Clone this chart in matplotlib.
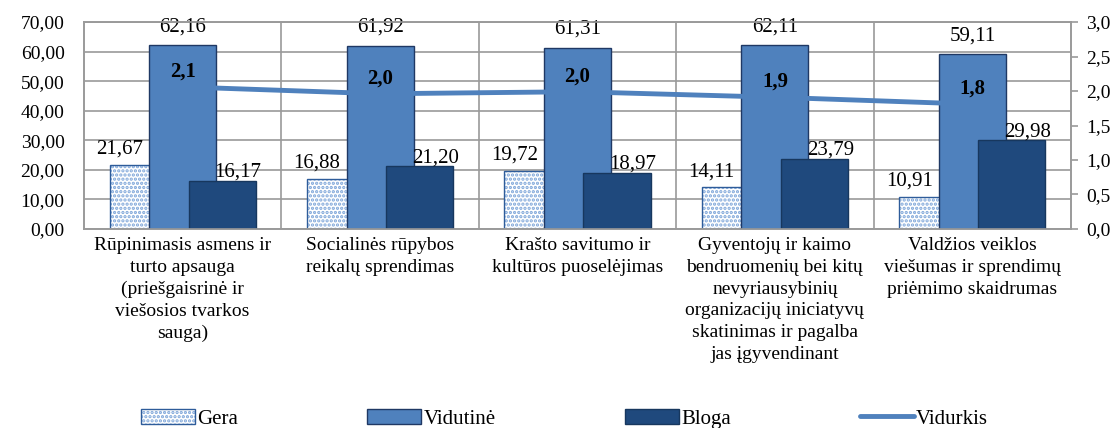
import numpy as np
import matplotlib.pyplot as plt
from matplotlib.ticker import FuncFormatter, MultipleLocator

# data
categories = [
    "Rūpinimasis asmens ir\nturto apsauga\n(priešgaisrinė ir\nviešosios tvarkos\nsauga)",
    "Socialinės rūpybos\nreikalų sprendimas",
    "Krašto savitumo ir\nkultūros puoselėjimas",
    "Gyventojų ir kaimo\nbendruomenių bei kitų\nnevyriausybinių\norganizacijų iniciatyvų\nskatinimas ir pagalba\njas įgyvendinant",
    "Valdžios veiklos\nviešumas ir sprendimų\npriėmimo skaidrumas",
]
gera = [21.67, 16.88, 19.72, 14.11, 10.91]
vidutine = [62.16, 61.92, 61.31, 62.11, 59.11]
bloga = [16.17, 21.20, 18.97, 23.79, 29.98]
vidurkis = [2.06, 1.96, 1.99, 1.91, 1.81]

plt.rcParams['font.family'] = ['Liberation Serif', 'DejaVu Serif']
plt.rcParams['hatch.color'] = '#7EA6D9'
plt.rcParams['hatch.linewidth'] = 1.6

grid_c = '#9A9A9A'
c_vid = '#4F81BD'
c_blo = '#1F497D'

fig = plt.figure(figsize=(11.18, 4.28), dpi=100)
ax = fig.add_axes([0.0751, 0.465, 0.8829, 0.4835])
ax2 = ax.twinx()

x = np.arange(len(categories))
w = 0.34
off = 0.2

def comma(fmt):
    return FuncFormatter(lambda v, p: (fmt % v).replace('.', ','))

# bars
b1 = ax.bar(x - off, gera, w, color='white', hatch='....', zorder=2)
b1o = ax.bar(x - off, gera, w, fill=False, edgecolor='#2E5C9A', linewidth=1, zorder=2)
b2 = ax.bar(x, vidutine, w, color=c_vid, edgecolor='#1F3864', linewidth=1, zorder=3)
b3 = ax.bar(x + off, bloga, w, color=c_blo, edgecolor='#17375E', linewidth=1, zorder=4)

for i in range(len(x)):
    ax.annotate(f"{gera[i]:.2f}".replace('.', ','), (x[i] - off - 0.12, gera[i]),
                xytext=(0, 8), textcoords='offset points', ha='center', va='baseline', fontsize=15, zorder=5)
    ax.annotate(f"{vidutine[i]:.2f}".replace('.', ','), (x[i], vidutine[i]),
                xytext=(0, 10), textcoords='offset points', ha='center', va='baseline', fontsize=15, zorder=5)
    ax.annotate(f"{bloga[i]:.2f}".replace('.', ','), (x[i] + off + 0.08, bloga[i]),
                xytext=(0, 3), textcoords='offset points', ha='center', va='baseline', fontsize=15, zorder=5)

# line
ln, = ax2.plot(x, vidurkis, color=c_vid, linewidth=3.5, solid_capstyle='round')
for i in range(len(x)):
    ax2.annotate(f"{vidurkis[i]:.1f}".replace('.', ','), (x[i], vidurkis[i]),
                 xytext=(0, 11), textcoords='offset points', ha='center', va='center',
                 fontsize=15, fontweight='bold')

# axes
ax.set_xlim(-0.5, len(x) - 0.5)
ax.set_ylim(0, 70)
ax2.set_ylim(0, 3)
ax.yaxis.set_major_locator(MultipleLocator(10))
ax2.yaxis.set_major_locator(MultipleLocator(0.5))
ax.yaxis.set_major_formatter(comma('%.2f'))
ax2.yaxis.set_major_formatter(comma('%.1f'))
ax.set_axisbelow(True)
ax.grid(axis='y', color=grid_c, linewidth=1.2)
for b in np.arange(0.5, len(x) - 0.5, 1):
    ax.axvline(b, color=grid_c, linewidth=1.2, zorder=0)

ax.set_xticks(x)
ax.set_xticklabels(categories, fontsize=14, linespacing=1.36, va='top')
ax.tick_params(axis='x', length=0, pad=6)
ax.tick_params(axis='y', length=0, pad=14, labelsize=14)
ax2.tick_params(axis='y', length=5, width=1.2, color=grid_c, pad=6, labelsize=14)

for a in (ax, ax2):
    for s in a.spines.values():
        s.set_color(grid_c)
        s.set_linewidth(1.2)

fig.legend([(b1[0], b1o[0]), b2[0], b3[0], ln], ['Gera', 'Vidutinė', 'Bloga', 'Vidurkis'],
           loc='center', bbox_to_anchor=(0.505, 0.022), ncol=4, frameon=False, fontsize=15,
           handlelength=2.6, handleheight=0.75, handletextpad=0.1, columnspacing=6.2)

fig.savefig('out.png', dpi=100)
